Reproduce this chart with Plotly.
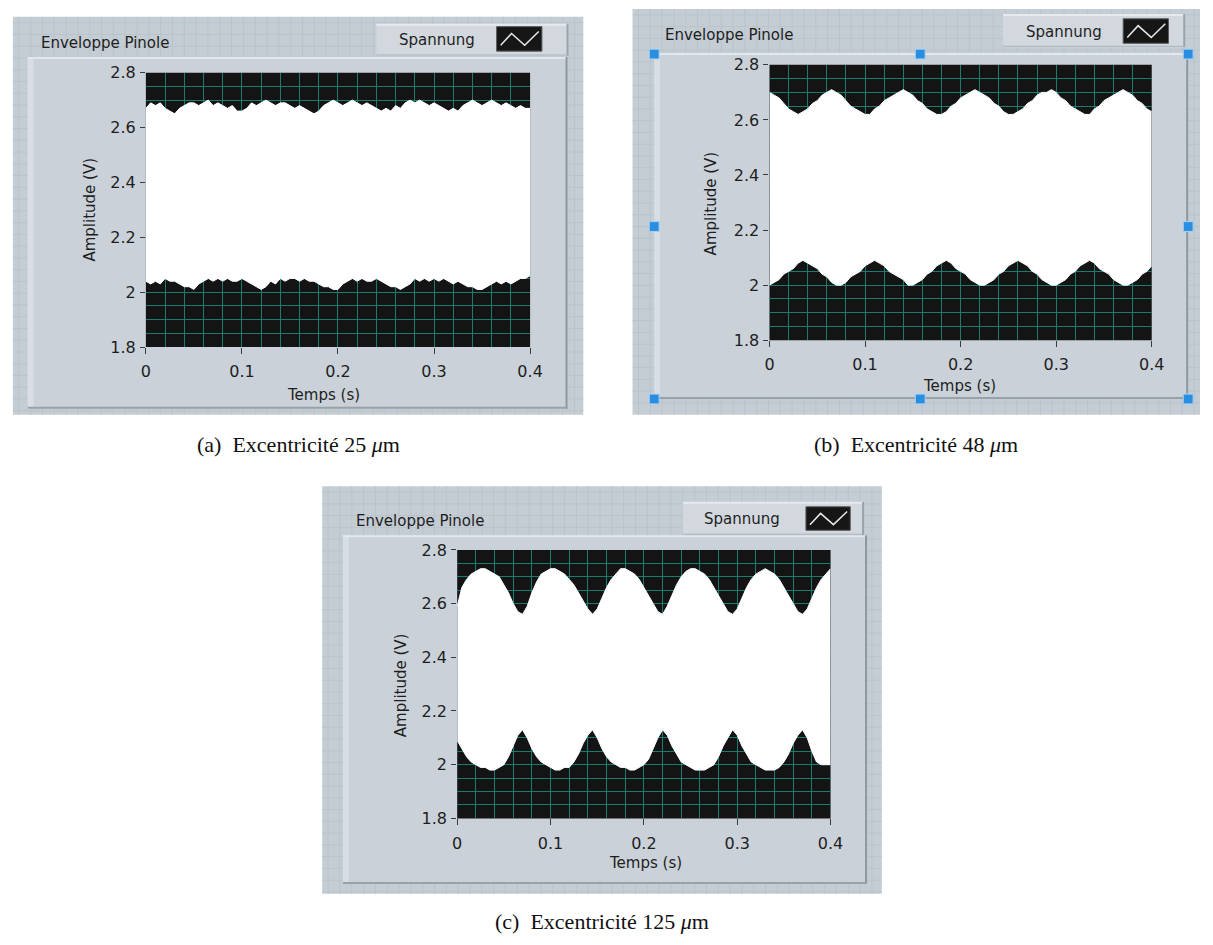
import plotly.graph_objects as go

W, H = 1213, 945

# ---------------- data ----------------
time_s = [0.000, 0.005, 0.010, 0.015, 0.020, 0.025, 0.030, 0.035, 0.040, 0.045,
          0.050, 0.055, 0.060, 0.065, 0.070, 0.075, 0.080, 0.085, 0.090, 0.095,
          0.100, 0.105, 0.110, 0.115, 0.120, 0.125, 0.130, 0.135, 0.140, 0.145,
          0.150, 0.155, 0.160, 0.165, 0.170, 0.175, 0.180, 0.185, 0.190, 0.195,
          0.200, 0.205, 0.210, 0.215, 0.220, 0.225, 0.230, 0.235, 0.240, 0.245,
          0.250, 0.255, 0.260, 0.265, 0.270, 0.275, 0.280, 0.285, 0.290, 0.295,
          0.300, 0.305, 0.310, 0.315, 0.320, 0.325, 0.330, 0.335, 0.340, 0.345,
          0.350, 0.355, 0.360, 0.365, 0.370, 0.375, 0.380, 0.385, 0.390, 0.395,
          0.400]

# (a) eccentricity 25 um
upper_a = [2.67, 2.69, 2.68, 2.69, 2.67, 2.66, 2.65, 2.67, 2.68, 2.69,
           2.69, 2.68, 2.69, 2.70, 2.68, 2.69, 2.68, 2.67, 2.68, 2.66,
           2.66, 2.67, 2.69, 2.68, 2.69, 2.70, 2.69, 2.68, 2.69, 2.69,
           2.68, 2.67, 2.68, 2.67, 2.66, 2.65, 2.66, 2.68, 2.69, 2.70,
           2.69, 2.68, 2.69, 2.70, 2.69, 2.68, 2.69, 2.68, 2.67, 2.66,
           2.67, 2.66, 2.68, 2.67, 2.69, 2.70, 2.69, 2.70, 2.69, 2.68,
           2.69, 2.68, 2.67, 2.66, 2.67, 2.66, 2.68, 2.69, 2.70, 2.69,
           2.68, 2.69, 2.70, 2.69, 2.68, 2.69, 2.68, 2.67, 2.68, 2.67,
           2.67]
lower_a = [2.04, 2.03, 2.04, 2.03, 2.05, 2.04, 2.04, 2.03, 2.02, 2.02,
           2.01, 2.03, 2.04, 2.05, 2.04, 2.05, 2.04, 2.05, 2.04, 2.04,
           2.05, 2.04, 2.03, 2.02, 2.01, 2.02, 2.04, 2.03, 2.05, 2.04,
           2.05, 2.05, 2.04, 2.05, 2.04, 2.04, 2.03, 2.02, 2.02, 2.01,
           2.01, 2.03, 2.04, 2.05, 2.04, 2.05, 2.04, 2.04, 2.05, 2.04,
           2.03, 2.02, 2.02, 2.01, 2.02, 2.03, 2.05, 2.04, 2.05, 2.04,
           2.05, 2.04, 2.05, 2.04, 2.03, 2.04, 2.03, 2.02, 2.02, 2.01,
           2.01, 2.02, 2.03, 2.04, 2.03, 2.04, 2.03, 2.04, 2.05, 2.05,
           2.06]

# (b) eccentricity 48 um
upper_b = [2.70, 2.69, 2.68, 2.66, 2.64, 2.63, 2.62, 2.63, 2.64, 2.66,
           2.67, 2.69, 2.70, 2.71, 2.70, 2.69, 2.67, 2.65, 2.64, 2.63,
           2.62, 2.62, 2.64, 2.65, 2.67, 2.68, 2.69, 2.70, 2.71, 2.70,
           2.69, 2.67, 2.66, 2.64, 2.63, 2.62, 2.62, 2.63, 2.65, 2.66,
           2.68, 2.69, 2.70, 2.71, 2.70, 2.69, 2.68, 2.66, 2.65, 2.63,
           2.62, 2.62, 2.63, 2.64, 2.66, 2.67, 2.69, 2.70, 2.70, 2.71,
           2.70, 2.68, 2.67, 2.65, 2.64, 2.63, 2.62, 2.62, 2.64, 2.65,
           2.67, 2.68, 2.69, 2.70, 2.71, 2.70, 2.69, 2.67, 2.66, 2.64,
           2.63]
lower_b = [2.00, 2.01, 2.02, 2.04, 2.05, 2.06, 2.08, 2.09, 2.08, 2.07,
           2.06, 2.04, 2.03, 2.01, 2.00, 2.00, 2.01, 2.03, 2.04, 2.05,
           2.07, 2.08, 2.09, 2.08, 2.07, 2.05, 2.04, 2.03, 2.02, 2.00,
           2.00, 2.01, 2.02, 2.04, 2.05, 2.07, 2.08, 2.09, 2.08, 2.06,
           2.05, 2.04, 2.02, 2.01, 2.00, 2.00, 2.01, 2.02, 2.04, 2.05,
           2.07, 2.08, 2.09, 2.08, 2.07, 2.05, 2.04, 2.02, 2.01, 2.00,
           2.00, 2.01, 2.02, 2.04, 2.05, 2.07, 2.08, 2.09, 2.08, 2.06,
           2.05, 2.04, 2.02, 2.01, 2.00, 2.00, 2.01, 2.02, 2.04, 2.05,
           2.07]

# (c) eccentricity 125 um
upper_c = [2.59, 2.66, 2.69, 2.71, 2.72, 2.73, 2.73, 2.72, 2.71, 2.70,
           2.67, 2.64, 2.60, 2.57, 2.56, 2.59, 2.64, 2.68, 2.71, 2.72,
           2.73, 2.73, 2.72, 2.71, 2.69, 2.67, 2.64, 2.61, 2.58, 2.56,
           2.58, 2.62, 2.66, 2.69, 2.71, 2.73, 2.73, 2.72, 2.71, 2.69,
           2.66, 2.63, 2.60, 2.57, 2.56, 2.59, 2.63, 2.67, 2.70, 2.72,
           2.73, 2.73, 2.72, 2.71, 2.69, 2.66, 2.63, 2.60, 2.57, 2.56,
           2.58, 2.62, 2.66, 2.69, 2.71, 2.72, 2.73, 2.72, 2.71, 2.69,
           2.66, 2.63, 2.60, 2.57, 2.56, 2.58, 2.62, 2.66, 2.69, 2.71,
           2.73]
lower_c = [2.09, 2.06, 2.03, 2.01, 2.00, 1.99, 1.99, 1.98, 1.98, 1.99,
           2.00, 2.03, 2.07, 2.11, 2.13, 2.10, 2.06, 2.03, 2.01, 2.00,
           1.99, 1.98, 1.98, 1.99, 1.99, 2.01, 2.04, 2.08, 2.11, 2.13,
           2.10, 2.06, 2.03, 2.01, 2.00, 1.99, 1.99, 1.98, 1.98, 1.99,
           2.00, 2.02, 2.06, 2.10, 2.13, 2.11, 2.07, 2.04, 2.01, 2.00,
           1.99, 1.98, 1.98, 1.98, 1.99, 2.00, 2.03, 2.07, 2.10, 2.13,
           2.11, 2.07, 2.04, 2.01, 2.00, 1.99, 1.98, 1.98, 1.98, 1.99,
           2.01, 2.04, 2.08, 2.11, 2.13, 2.10, 2.05, 2.01, 2.00, 2.00,
           2.00]

x_tick_vals = [0, 0.1, 0.2, 0.3, 0.4]
x_tick_text = ["0", "0.1", "0.2", "0.3", "0.4"]
y_tick_vals = [1.8, 2.0, 2.2, 2.4, 2.6, 2.8]
y_tick_text = ["1.8", "2", "2.2", "2.4", "2.6", "2.8"]

panel_title = "Enveloppe Pinole"
legend_name = "Spannung"
x_title = "Temps (s)"
y_title = "Amplitude (V)"
captions = ["(a)\u2002Excentricité 25 <i>μ</i>m",
            "(b)\u2002Excentricité 48 <i>μ</i>m",
            "(c)\u2002Excentricité 125 <i>μ</i>m"]

# ---------------- styling / layout geometry (pixels) ----------------
FONT = "DejaVu Sans"
SERIF = "Liberation Serif"
TXT = "#1e1e1e"
GRID = "#1d7a70"
PLOT_BG = "#141414"
OUTER_BG = "#c4ccd4"
OUTER_GRID = "#bbc3cb"
INNER_BG = "#cad1d8"
BOX_BG = "#d2d8de"

panels = [
    dict(outer=(8, 8, 587, 414), inner=(23, 49, 571, 408),
         box=(377, 15, 572, 48), icon=(499, 18, 545, 43), spann=(438, 32),
         title=(35, 35), plot=(143, 65, 533, 345), ytit=(86, 205), xtit=(323, 394),
         cap=(298, 444), upper=upper_a, lower=lower_a),
    dict(outer=(637, 0, 1213, 414), inner=(659, 45, 1201, 398),
         box=(1013, 5, 1198, 39), icon=(1135, 10, 1181, 35), spann=(1075, 23),
         title=(668, 27), plot=(776, 57, 1164, 338), ytit=(717, 198), xtit=(969, 385),
         cap=(925, 444), upper=upper_b, lower=lower_b),
    dict(outer=(322, 487, 890, 903), inner=(343, 537, 875, 893),
         box=(688, 503, 872, 537), icon=(813, 508, 858, 532), spann=(748, 520),
         title=(354, 523), plot=(459, 552, 838, 826), ytit=(402, 690), xtit=(650, 872),
         cap=(606, 931), upper=upper_c, lower=lower_c),
]


def px(x):
    return x / W


def py(y):
    return 1 - y / H


def rect(x0, y0, x1, y1, fill, line=None, lw=0):
    return dict(type="rect", xref="paper", yref="paper", layer="below",
                x0=px(x0), x1=px(x1), y0=py(y1), y1=py(y0),
                fillcolor=fill, line=dict(color=line or fill, width=lw))


def hline(x0, x1, y, color, w=1):
    return dict(type="line", xref="paper", yref="paper", layer="below",
                x0=px(x0), x1=px(x1), y0=py(y), y1=py(y), line=dict(color=color, width=w))


def vline(x, y0, y1, color, w=1):
    return dict(type="line", xref="paper", yref="paper", layer="below",
                x0=px(x), x1=px(x), y0=py(y0), y1=py(y1), line=dict(color=color, width=w))


fig = go.Figure()
shapes = []
annotations = []
layout_axes = {}

for i, p in enumerate(panels):
    k = "" if i == 0 else str(i + 1)
    xa, ya = "x" + k, "y" + k
    ox0, oy0, ox1, oy1 = p["outer"]
    # outer LabVIEW front-panel background with faint grid
    shapes.append(rect(ox0, oy0, ox1, oy1, OUTER_BG))
    gx = ox0 + 6
    while gx < ox1:
        shapes.append(vline(gx, oy0, oy1, OUTER_GRID))
        gx += 12
    gy = oy0 + 6
    while gy < oy1:
        shapes.append(hline(ox0, ox1, gy, OUTER_GRID))
        gy += 12
    # inner raised panel
    ix0, iy0, ix1, iy1 = p["inner"]
    shapes.append(rect(ix0, iy0, ix1, iy1, INNER_BG))
    shapes.append(rect(ix0, iy0, ix0 + 6, iy1, "#d8dee3"))
    shapes.append(hline(ix0, ix1, iy0 + 1, "#e3e8ec", 2))
    shapes.append(vline(ix1 - 1, iy0, iy1, "#8e979f", 2))
    shapes.append(hline(ix0, ix1, iy1 - 1, "#98a1a9", 2))
    # legend box
    bx0, by0, bx1, by1 = p["box"]
    shapes.append(rect(bx0, by0, bx1, by1, BOX_BG))
    shapes.append(hline(bx0, bx1, by0 + 1, "#e6eaee", 2))
    shapes.append(vline(bx1 - 1, by0, by1, "#9aa3ab", 2))
    shapes.append(hline(bx0, bx1, by1 - 1, "#aab2ba", 1))
    cx0, cy0, cx1, cy1 = p["icon"]
    shapes.append(rect(cx0, cy0, cx1, cy1, "#161616", "#5a5a5a", 1))
    iw, ih = cx1 - cx0, cy1 - cy0
    pts = [(cx0 + 0.09 * iw, cy0 + 0.76 * ih), (cx0 + 0.33 * iw, cy0 + 0.28 * ih),
           (cx0 + 0.62 * iw, cy0 + 0.76 * ih), (cx0 + 0.93 * iw, cy0 + 0.20 * ih)]
    path = "M " + " L ".join(f"{px(a):.5f},{py(b):.5f}" for a, b in pts)
    shapes.append(dict(type="path", xref="paper", yref="paper", layer="below", path=path,
                       line=dict(color="#e8e8e8", width=1.5)))
    # black plot area
    shapes.append(dict(type="rect", xref=xa + " domain", yref=ya + " domain", layer="below",
                       x0=0, x1=1, y0=0, y1=1, fillcolor=PLOT_BG, line=dict(width=0)))

    qx0, qy0, qx1, qy1 = p["plot"]
    layout_axes["xaxis" + k] = dict(
        domain=[px(qx0), px(qx1)], anchor=ya, range=[0, 0.4],
        tickvals=x_tick_vals, ticktext=x_tick_text,
        showgrid=True, gridcolor=GRID, gridwidth=1,
        minor=dict(dtick=0.02, tick0=0, showgrid=True, gridcolor=GRID, gridwidth=1),
        ticks="outside", ticklen=6, tickwidth=1, tickcolor="#3a3a3a",
        ticklabelstandoff=4,
        showline=False, zeroline=False, fixedrange=True,
        tickfont=dict(family=FONT, size=16, color=TXT))
    layout_axes["yaxis" + k] = dict(
        domain=[py(qy1), py(qy0)], anchor=xa, range=[1.8, 2.8],
        tickvals=y_tick_vals, ticktext=y_tick_text,
        showgrid=True, gridcolor=GRID, gridwidth=1,
        minor=dict(dtick=0.05, tick0=1.8, showgrid=True, gridcolor=GRID, gridwidth=1),
        ticks="outside", ticklen=5, tickwidth=1, tickcolor="#3a3a3a",
        ticklabelstandoff=1,
        showline=False, zeroline=False, fixedrange=True,
        tickfont=dict(family=FONT, size=16, color=TXT))

    fig.add_trace(go.Scatter(x=time_s, y=p["lower"], mode="lines",
                             line=dict(color="white", width=1),
                             xaxis=xa, yaxis=ya, showlegend=False, hoverinfo="skip"))
    fig.add_trace(go.Scatter(x=time_s, y=p["upper"], mode="lines", fill="tonexty",
                             fillcolor="white",
                             line=dict(color="white", width=1),
                             xaxis=xa, yaxis=ya, showlegend=False, hoverinfo="skip"))

    # texts
    tx, ty = p["title"]
    annotations.append(dict(x=px(tx), y=py(ty), xref="paper", yref="paper", text=panel_title,
                            xanchor="left", yanchor="middle", showarrow=False,
                            font=dict(family=FONT, size=15, color=TXT)))
    sx, sy = p["spann"]
    annotations.append(dict(x=px(sx), y=py(sy), xref="paper", yref="paper", text=legend_name,
                            xanchor="center", yanchor="middle", showarrow=False,
                            font=dict(family=FONT, size=15, color=TXT)))
    ax_, ay_ = p["ytit"]
    annotations.append(dict(x=px(ax_), y=py(ay_), xref="paper", yref="paper", text=y_title,
                            textangle=-90, xanchor="center", yanchor="middle", showarrow=False,
                            font=dict(family=FONT, size=15, color=TXT)))
    bx_, by_ = p["xtit"]
    annotations.append(dict(x=px(bx_), y=py(by_), xref="paper", yref="paper", text=x_title,
                            xanchor="center", yanchor="middle", showarrow=False,
                            font=dict(family=FONT, size=15, color=TXT)))
    cpx, cpy = p["cap"]
    annotations.append(dict(x=px(cpx), y=py(cpy), xref="paper", yref="paper", text=captions[i],
                            xanchor="center", yanchor="middle", showarrow=False,
                            font=dict(family=SERIF, size=22, color="#111111")))

# selection handles around panel (b)
for hx in (659, 929, 1201):
    for hy in (46, 222, 398):
        if hx == 929 and hy == 222:
            continue
        shapes.append(dict(type="rect", xref="paper", yref="paper", layer="above",
                           x0=px(hx - 5), x1=px(hx + 5), y0=py(hy + 5), y1=py(hy - 5),
                           fillcolor="#2a8ee0", line=dict(color="#a8d1f3", width=1)))

fig.update_layout(width=W, height=H, margin=dict(l=0, r=0, t=0, b=0),
                  paper_bgcolor="white", plot_bgcolor="rgba(0,0,0,0)",
                  shapes=shapes, annotations=annotations, showlegend=False,
                  **layout_axes)

fig.write_html("out.html")
